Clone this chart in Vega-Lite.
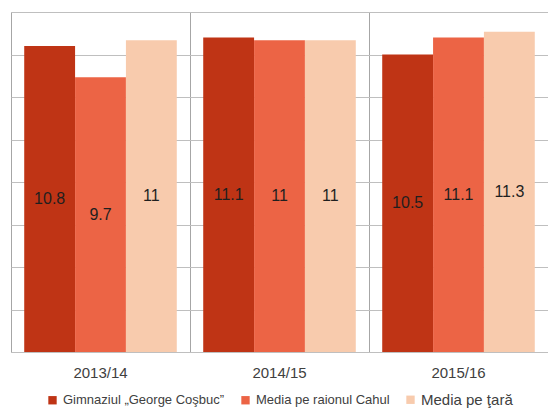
{
  "$schema": "https://vega.github.io/schema/vega-lite/v6.json",
  "width": 537,
  "height": 340,
  "autosize": {"type": "none"},
  "padding": {"left": 11, "top": 12, "right": 0, "bottom": 56},
  "config": {
    "font": "Liberation Sans",
    "view": {"stroke": "#d0d0d0", "strokeWidth": 1},
    "legend": {"layout": {"bottom": {"anchor": "middle"}}}
  },
  "data": {
    "values": [
      {"year": "2013/14", "series": "Gimnaziul „George Coşbuc”", "value": 10.8},
      {"year": "2013/14", "series": "Media pe raionul Cahul", "value": 9.7},
      {"year": "2013/14", "series": "Media pe ţară", "value": 11},
      {"year": "2014/15", "series": "Gimnaziul „George Coşbuc”", "value": 11.1},
      {"year": "2014/15", "series": "Media pe raionul Cahul", "value": 11},
      {"year": "2014/15", "series": "Media pe ţară", "value": 11},
      {"year": "2015/16", "series": "Gimnaziul „George Coşbuc”", "value": 10.5},
      {"year": "2015/16", "series": "Media pe raionul Cahul", "value": 11.1},
      {"year": "2015/16", "series": "Media pe ţară", "value": 11.3}
    ]
  },
  "encoding": {
    "x": {
      "field": "year",
      "type": "nominal",
      "scale": {"paddingInner": 0, "paddingOuter": 0},
      "axis": {
        "title": null,
        "labelAngle": 0,
        "ticks": false,
        "bandPosition": 0,
        "grid": true,
        "gridColor": "#a6a6a6",
        "domainColor": "#bfbfbf",
        "labelFontSize": 15,
        "labelColor": "#404040",
        "labelPadding": 13
      }
    },
    "xOffset": {
      "field": "series",
      "type": "nominal",
      "sort": ["Gimnaziul „George Coşbuc”", "Media pe raionul Cahul", "Media pe ţară"],
      "scale": {"paddingOuter": 0.26, "paddingInner": 0}
    }
  },
  "layer": [
    {
      "mark": {"type": "bar"},
      "encoding": {
        "y": {
          "field": "value",
          "type": "quantitative",
          "scale": {"domain": [0, 12]},
          "axis": {
            "title": null,
            "labels": false,
            "ticks": false,
            "domain": false,
            "values": [0, 1.5, 3, 4.5, 6, 7.5, 9, 10.5, 12],
            "gridColor": "#bfbfbf"
          }
        },
        "color": {
          "field": "series",
          "type": "nominal",
          "sort": ["Gimnaziul „George Coşbuc”", "Media pe raionul Cahul", "Media pe ţară"],
          "scale": {"range": ["#bf3415", "#ec6445", "#f8cbad"]},
          "legend": {
            "title": null,
            "orient": "bottom",
            "direction": "horizontal",
            "symbolType": "square",
            "symbolSize": 70,
            "symbolStrokeWidth": 0,
            "labelFontSize": 13,
            "labelLimit": 400,
            "labelColor": "#404040",
            "columnPadding": 14,
            "offset": 13,
            "encode": {
              "labels": {
                "update": {
                  "fontSize": {"signal": "datum.label === 'Media pe ţară' ? 15 : 13"}
                }
              }
            }
          }
        }
      }
    },
    {
      "mark": {"type": "text", "fontSize": 16, "color": "#1f1f1f", "align": "center", "baseline": "middle"},
      "encoding": {
        "y": {
          "field": "value",
          "type": "quantitative",
          "scale": {"domain": [0, 24]},
          "axis": null
        },
        "text": {"field": "value", "type": "quantitative"}
      }
    }
  ],
  "resolve": {"scale": {"y": "independent"}}
}
